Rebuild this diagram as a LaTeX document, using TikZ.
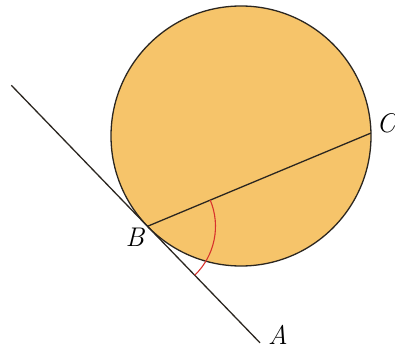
\documentclass[tikz,border=0pt]{standalone}
\usetikzlibrary{calc}
\definecolor{discfill}{HTML}{F6C46A}
\definecolor{discedge}{HTML}{2B2620}
\definecolor{anglered}{HTML}{D8322C}
\tikzset{
  disc/.style={draw=discedge, line width=1.3pt, fill=discfill},
  edge/.style={draw=discedge, line width=1.3pt},
  anglemark/.style={draw=anglered, line width=1.1pt},
  ptlabel/.style={font=\fontsize{27}{31}\selectfont\itshape, inner sep=0pt}
}
\begin{document}
\begin{tikzpicture}[x=1pt, y=1pt]
  \useasboundingbox (0,0) rectangle (395,351);

  % Circle
  \coordinate (O) at (241,215);
  \draw[disc] (O) circle[radius=130];

  % Points on the circle and the tangent at B
  \coordinate (B) at ($(O)+(224:130)$);
  \coordinate (C) at ($(O)+(1.3:130)$);
  \coordinate (tanstart) at ($(B)+(134:196)$);
  \coordinate (tanend) at ($(B)+(314:162)$);

  % Lines
  \draw[edge] (tanstart) -- (tanend);
  \draw[edge] (B) -- (C);

  % Angle between chord and tangent
  \draw[anglemark] ($(B)+(22.7:68)$) arc[start angle=22.7, end angle=-46, radius=68];

  % Labels
  \node[ptlabel] (Blabel) at (135,114) {B};
  \node[ptlabel] (Clabel) at (386,228) {C};
  \node[ptlabel] (Alabel) at (278,16) {A};

\end{tikzpicture}
\end{document}
